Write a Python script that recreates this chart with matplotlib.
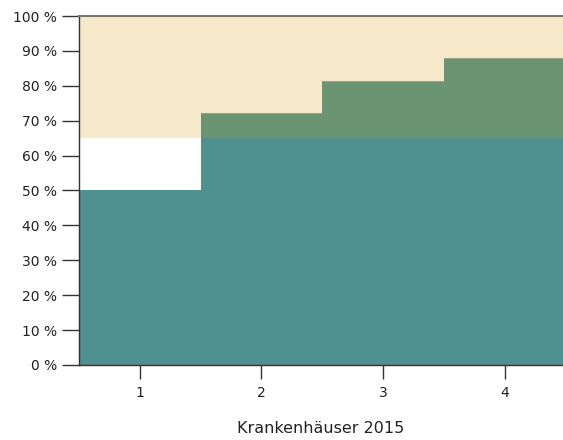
import matplotlib.pyplot as plt
from matplotlib.ticker import FuncFormatter

# data
categories = [1, 2, 3, 4]
base_share = [50, 65, 65, 65]        # teal part
extra_share = [0, 7.2, 16.5, 23.0]   # green part stacked on top of 65 %
band_low, band_high = 65, 100        # beige target band

teal = "#4f918e"
green = "#6a9472"
beige = "#f5e9c9"

fig = plt.figure(figsize=(5.63, 4.40), dpi=100)
ax = fig.add_axes([0.1403, 0.1705, 0.8597, 0.7931])

ax.axhspan(band_low, band_high, color=beige, zorder=0, lw=0)
ax.bar(categories, base_share, width=1.0, color=teal, lw=0, zorder=2)
ax.bar(categories, extra_share, width=1.0, bottom=band_low, color=green,
       lw=0, zorder=2)
# thin darker edge on top of the green steps
for c, e in zip(categories, extra_share):
    if e > 0:
        ax.hlines(band_low + e, c - 0.5, c + 0.5, color="#a8a07a", lw=0.8,
                  zorder=3)

ax.set_xlim(0.5, 4.48)
ax.set_ylim(0, 100)
ax.set_xticks(categories)
ax.set_yticks(range(0, 101, 10))
ax.yaxis.set_major_formatter(FuncFormatter(lambda v, p: "%d %%" % v))

ax.spines["right"].set_visible(False)
ax.spines["top"].set_color("#777777")
ax.spines["top"].set_linewidth(1.5)
for s in ["left", "bottom"]:
    ax.spines[s].set_color("#333333")
    ax.spines[s].set_linewidth(1.0)

ax.tick_params(axis="y", length=12, width=1, color="#333333",
               labelsize=10, pad=4, labelcolor="#222222")
ax.tick_params(axis="x", length=10, width=1, color="#333333",
               labelsize=10, pad=5, labelcolor="#222222")
ax.set_xlabel("Krankenhäuser 2015", fontsize=11.5, color="#222222",
              labelpad=15)

fig.savefig("out.png", dpi=100)
